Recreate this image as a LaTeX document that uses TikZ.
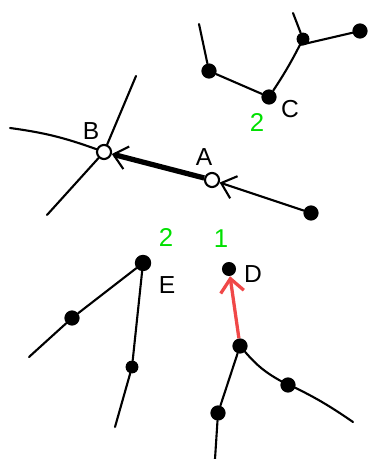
\documentclass[tikz,border=0pt]{standalone}
\usepackage{fontspec}
\setmainfont{Liberation Sans}
\usetikzlibrary{positioning, arrows.meta}
\definecolor{pickGreen}{HTML}{00E000}
\definecolor{pickRed}{HTML}{F04848}

\begin{document}
\begin{tikzpicture}[
  x=0.03cm, y=-0.03cm,
  edge/.style={line width=1.8pt, line cap=round},
  dot/.style={circle, fill=black, minimum size=13pt, inner sep=0pt},
  hollow/.style={circle, draw, fill=white, line width=1.8pt, minimum size=12pt, inner sep=0pt},
  lbl/.style={font=\fontsize{21}{24}\selectfont},
  num/.style={font=\fontsize{22}{24}\selectfont, text=pickGreen},
  barb/.style={-{Straight Barb[length=4mm, width=7mm, line width=1.8pt]}}
]
\useasboundingbox (0,0) rectangle (368,459);

% upper right tree
\node[dot] (c) at (269,97) {};
\node[dot] (cl) at (209,71) {};
\node[dot, minimum size=11pt] (cr) at (303,39) {};
\node[dot] (cf) at (360,31) {};
\coordinate (cl0) at (199,24);
\coordinate (cr0) at (293,13);

% A and B
\node[hollow] (b) at (104,152) {};
\node[hollow] (a) at (212,180) {};
\node[dot] (af) at (311,213) {};
\coordinate (b1) at (10,128);
\coordinate (b2) at (136,76);
\coordinate (b3) at (47,215);

% E tree
\node[dot, minimum size=14pt] (e) at (143,263) {};
\node[dot] (e1) at (72,318) {};
\node[dot, minimum size=11pt] (e2) at (132,367) {};
\coordinate (e1x) at (29,357);
\coordinate (e2x) at (115,427);

% D and lower tree
\node[dot, minimum size=12pt] (d) at (229,269) {};
\node[dot] (g) at (240,346) {};
\node[dot] (g1) at (218,413) {};
\node[dot] (g2) at (288,385) {};
\coordinate (g1x) at (215,459);
\coordinate (g2x) at (353,422);

% labels
\node[lbl] (la) at (204,157) {A};
\node[lbl] (lb) at (91,131) {B};
\node[lbl] (lc) at (290,109) {C};
\node[lbl] (ld) at (253,274) {D};
\node[lbl] (le) at (167,285) {E};
\node[num] (n2c) at (257,123) {2};
\node[num] (n2e) at (166,238) {2};
\node[num] (n1) at (221,239) {1};

% connectors
\draw[edge] (cl0) -- (cl) -- (c) to[bend right=3] (cr) -- (cf);
\draw[edge] (cr0) -- (cr);
\draw[edge] (b1) to[bend left=6] (b);
\draw[edge] (b2) -- (b) -- (b3);
\draw[edge, barb] (af) -- (a);
\draw[line width=4.5pt, barb] (a) -- (b);
\draw[edge] (e) -- (e1) -- (e1x);
\draw[edge] (e) -- (e2) -- (e2x);
\draw[line width=2.8pt, pickRed, -{Straight Barb[length=4mm, width=7mm, line width=2.8pt]}] (g) -- (d);
\draw[edge] (g) -- (g1) -- (g1x);
\draw[edge] (g) to[bend right=10] (g2) to[bend left=5] (g2x);
\end{tikzpicture}
\end{document}
